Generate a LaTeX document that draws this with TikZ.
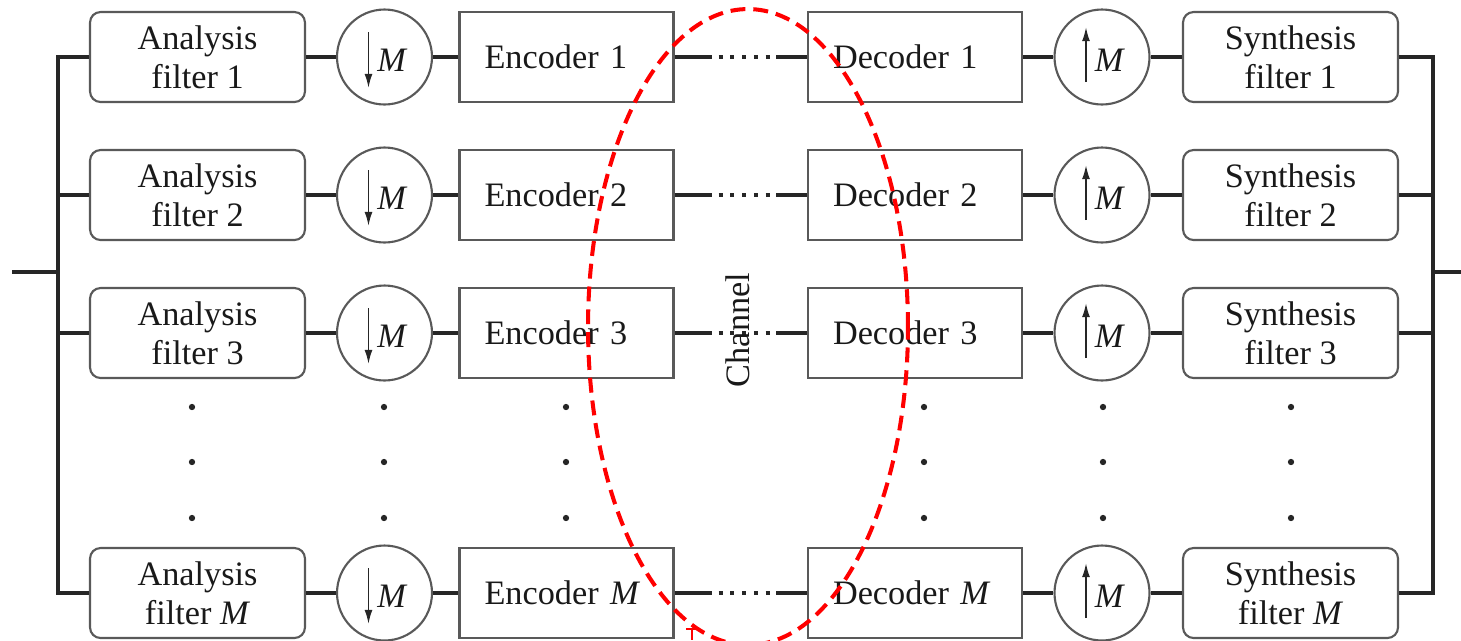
\documentclass[tikz,border=0pt]{standalone}
\usepackage{fontspec}
\setmainfont{Liberation Serif}
\usetikzlibrary{arrows.meta}

\tikzset{
  every node/.style={font=\fontsize{19.5}{22}\selectfont, text=black!90},
  wire/.style={line width=2pt, black!85},
  filt/.style={draw=black!65, line width=1.2pt, rounded corners=6pt,
    minimum width=4.3cm, minimum height=1.8cm, align=center},
  codec/.style={draw=black!65, line width=1.2pt, minimum height=1.8cm,
    text width=3.28cm, inner xsep=0.5cm, align=left},
  rate/.style={circle, draw=black!65, line width=1.2pt, minimum size=1.9cm},
  tip/.style={line width=1pt, black!85, -{Latex[length=8pt,width=4.5pt]}},
  chan/.style={wire, dash pattern=on 0.74cm off 0.14cm on 0.08cm off 0.155cm
    on 0.08cm off 0.155cm on 0.08cm off 0.155cm on 0.08cm off 0.155cm
    on 0.08cm off 0.13cm on 2cm},
  ring/.style={red, line width=2.3pt, dash pattern=on 8.5pt off 4.5pt}
}

\begin{document}
\begin{tikzpicture}[x=0.02cm, y=-0.02cm]
  \useasboundingbox (0,0) rectangle (1461,640);

  \foreach \r/\y/\n in {1/57/1, 2/195/2, 3/333/3, m/593/\textit{M}} {
    \node [filt] (an\r) at (197.5,\y) {Analysis\\filter \n};
    \node [rate] (dn\r) at (384.5,\y) {};
    \node (dm\r) at ([shift={(8,3)}]dn\r.center) {\textit{M}};
    \node [codec] (en\r) at (566.5,\y) {Encoder \n};
    \node [codec] (de\r) at (915,\y) {Decoder \n};
    \node [rate] (up\r) at (1102,\y) {};
    \node (um\r) at ([shift={(8,3)}]up\r.center) {\textit{M}};
    \node [filt] (sy\r) at (1290.5,\y) {Synthesis\\filter \n};

    \draw [tip] ([shift={(-16,-25)}]dn\r.center) -- ([shift={(-16,31)}]dn\r.center);
    \draw [tip] ([shift={(-16,25)}]up\r.center) -- ([shift={(-16,-30)}]up\r.center);

    \foreach \from/\to in {an/dn, dn/en, de/up, up/sy}
      \draw [wire] (\from\r) -- (\to\r);
    \draw [chan] (en\r.east) -- (de\r.west);
  }

  \coordinate (in) at (12,272);
  \coordinate (lbus) at (58,272);
  \coordinate (rbus) at (1433,272);
  \coordinate (out) at (1461,272);

  \draw [wire] (in) -- (lbus);
  \draw [wire] (an1.west) -| (lbus) |- (anm.west);
  \draw [wire] (rbus) -- (out);
  \draw [wire] (sy1.east) -| (rbus) |- (sym.east);
  \foreach \r in {2,3} {
    \draw [wire] (an\r.west) -- (an\r.west -| lbus);
    \draw [wire] (sy\r.east) -- (sy\r.east -| rbus);
  }

  \foreach \x in {192,384,566,924,1103,1291}
    \foreach \y in {407,462,518}
      \fill [black!85] (\x,\y) circle (1.8pt);

  \node [rotate=90] (chan) at (738,330) {Channel};

  \draw [ring] (748,327) ellipse [x radius=3.2cm, y radius=6.36cm];
  \draw [red, line width=1.2pt] (686,629) -- (699,629) (692,629) -- (692,640);
\end{tikzpicture}
\end{document}
